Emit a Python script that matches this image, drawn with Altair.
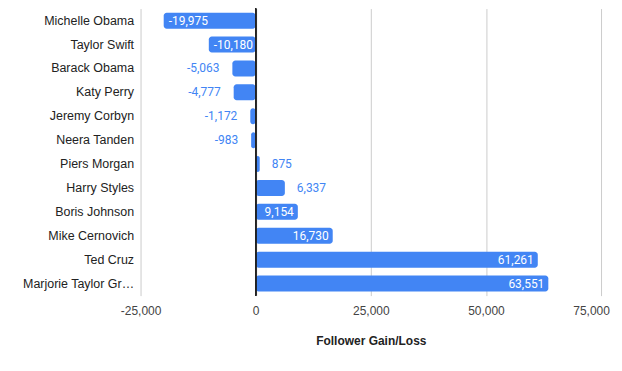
import altair as alt
import pandas as pd

names = ["Michelle Obama", "Taylor Swift", "Barack Obama", "Katy Perry", "Jeremy Corbyn",
         "Neera Tanden", "Piers Morgan", "Harry Styles", "Boris Johnson", "Mike Cernovich",
         "Ted Cruz", "Marjorie Taylor Greene"]
values = [-19975, -10180, -5063, -4777, -1172, -983, 875, 6337, 9154, 16730, 61261, 63551]
x_ticks = [-25000, 0, 25000, 50000, 75000]

BLUE = "#4285f4"

df = pd.DataFrame({"name": names, "value": values})
df["inside"] = df["value"].abs() >= 8000
df["sign"] = df["value"].apply(lambda v: "pos" if v >= 0 else "neg")
df["label"] = df["value"].apply(lambda v: f"{v:,}")
df["zero"] = 0

y_axis = alt.Axis(domain=False, ticks=False, labelPadding=7, labelFont="Liberation Sans",
                  labelFontSize=12.5, labelColor="#222222", labelLimit=112)
y_scale = alt.Scale(paddingInner=0.33, paddingOuter=0.17)
x_scale = alt.Scale(domain=[-25000, 75000], nice=False, zero=False)
x_axis = alt.Axis(values=x_ticks, labelExpr="replace(format(datum.value, ','), '\u2212', '-')",
                  domain=False, ticks=False, grid=True, labelFlush=False, labelOverlap=False,
                  labelOffset={"condition": {"test": "datum.value == 75000", "value": -10}, "value": 0},
                  gridColor="#cccccc", labelPadding=10, labelFont="Liberation Sans",
                  labelFontSize=12, labelColor="#444444", titleFont="Liberation Sans",
                  titleFontSize=12, titleFontWeight="bold", titleColor="#222222",
                  titlePadding=19)

def X(field):
    return alt.X(field, type="quantitative", scale=x_scale, axis=x_axis, title="Follower Gain/Loss")

Y = alt.Y("name:N", sort=names, title=None, scale=y_scale, axis=y_axis)

base = alt.Chart(df)
bars = base.mark_bar(color=BLUE, cornerRadius=3).encode(x=X("value"), x2="zero:Q", y=Y)
zero = base.mark_rule(color="#222222", strokeWidth=1).encode(x=X("zero"))

def lbl(sign, inside, align, dx, color):
    return base.transform_filter(
        (alt.datum.sign == sign) & (alt.datum.inside == inside)
    ).mark_text(align=align, baseline="middle", dx=dx, color=color, font="Roboto", fontSize=12).encode(
        x=X("value"), y=Y, text=alt.Text("label:N"))

texts = [
    lbl("pos", True, "right", -4, "white"),
    lbl("neg", True, "left", 5, "white"),
    lbl("pos", False, "left", 12, BLUE),
    lbl("neg", False, "right", -13, BLUE),
]

chart = alt.layer(bars, zero, *texts).properties(
    width=462, height=288,
    autosize=alt.AutoSizeParams(type="none"),
    padding={"left": 133, "top": 0, "right": 13, "bottom": 60},
).configure(background="white").configure_view(stroke=None)

chart.save("out.html", embed_options={"renderer": "svg", "actions": False})
